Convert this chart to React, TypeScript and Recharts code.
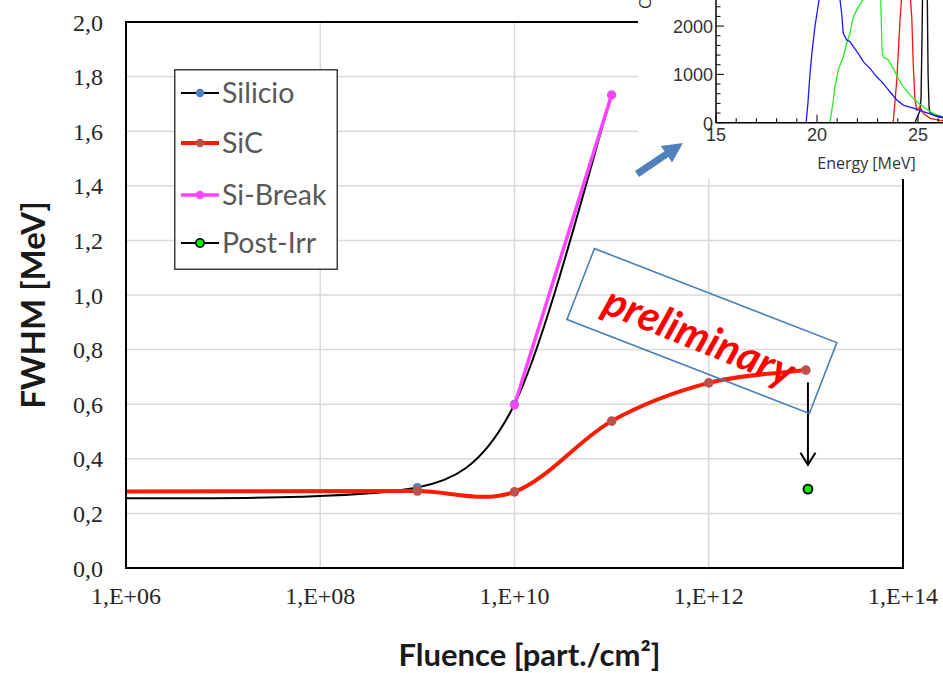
import React from 'react';
import {
  LineChart,
  Line,
  XAxis,
  YAxis,
  CartesianGrid,
  ReferenceArea,
  ReferenceDot,
  ReferenceLine,
  Legend,
} from 'recharts';

// ---- FWHM vs fluence ----
const FLUENCE_TICKS = [1e6, 1e8, 1e10, 1e12, 1e14];
const FWHM_TICKS = [0, 0.2, 0.4, 0.6, 0.8, 1.0, 1.2, 1.4, 1.6, 1.8, 2.0];

const SILICIO_FLUENCE = [1e5, 1e9, 1e10, 1e11];
const SILICIO_FWHM = [0.255, 0.295, 0.6, 1.733];

const SIC_FLUENCE = [1e5, 1e9, 1e10, 1e11, 1e12, 1e13];
const SIC_FWHM = [0.28, 0.282, 0.279, 0.538, 0.678, 0.725];

const BREAK_FLUENCE = [1e10, 1e11];
const BREAK_FWHM = [0.597, 1.733];

const POST_FLUENCE = [1.05e13];
const POST_FWHM = [0.289];

// annotation anchors (data units)
const ARROW_FWHM_FROM = 0.68;
const ARROW_FWHM_TO = 0.378;
const STAMP_FLUENCE = 8.5e11;
const STAMP_FWHM = 0.868;

// ---- energy spectra (inset) ----
const ENERGY_TICKS = [15, 16, 17, 18, 19, 20, 21, 22, 23, 24, 25, 26, 27, 28, 29];
const ENERGY_LABELS = [15, 20, 25];
const COUNT_TICKS = [0, 200, 400, 600, 800, 1000, 1200, 1400, 1600, 1800, 2000, 2200, 2400];
const COUNT_LABELS = [0, 1000, 2000];

const BLUE_E = [15, 19.4, 19.46, 19.55, 19.65, 19.75, 19.9, 20.05, 20.15, 20.4, 20.65, 20.9, 21.05, 21.14, 21.22, 21.3, 21.47, 21.63, 21.8, 22.04, 22.29, 22.62, 22.96, 23.28, 23.61, 23.95, 24.27, 24.77, 25.26, 25.76, 26.24, 26.8];
const BLUE_N = [0, 0, 0, 400, 1000, 1450, 2000, 2400, 2700, 3100, 3300, 3200, 2900, 2540, 2265, 1850, 1710, 1680, 1575, 1435, 1265, 1125, 950, 815, 640, 470, 365, 300, 230, 160, 110, 80];

const GREEN_E = [15, 20.64, 20.81, 20.89, 21.05, 21.3, 21.47, 21.63, 21.8, 21.97, 22.21, 22.38, 22.6, 22.8, 23.0, 23.15, 23.22, 23.28, 23.53, 23.78, 24.02, 24.27, 24.6, 24.94, 25.26, 25.59, 25.93, 26.24, 26.8];
const GREEN_N = [0, 0, 470, 745, 1090, 1365, 1645, 1850, 2195, 2335, 2505, 2600, 2750, 2850, 2800, 2650, 1500, 1365, 1300, 1125, 920, 745, 575, 435, 330, 230, 160, 125, 90];

const RED_E = [15, 23.75, 23.78, 23.95, 24.11, 24.19, 24.4, 24.6, 24.69, 24.77, 24.85, 24.94, 25.1, 25.26, 25.6, 26.1, 26.8];
const RED_N = [0, 0, 40, 885, 2125, 2600, 3500, 2700, 2195, 1160, 470, 265, 330, 195, 90, 50, 30];

const BLACK_E = [15, 24.85, 25.0, 25.1, 25.15, 25.2, 25.25, 25.35, 25.45, 25.5, 25.55, 25.6, 25.8, 26.0, 26.24, 26.8];
const BLACK_N = [0, 0, 150, 250, 500, 1800, 3500, 4000, 3000, 1000, 300, 200, 150, 120, 100, 70];

const pairs = (xs: number[], ys: number[]) => xs.map((x, i) => ({ x, y: ys[i] }));
const spectrum = (es: number[], ns: number[]) => es.map((e, i) => ({ e, n: ns[i] }));

const silicio = pairs(SILICIO_FLUENCE, SILICIO_FWHM);
const sic = pairs(SIC_FLUENCE, SIC_FWHM);
const siBreak = pairs(BREAK_FLUENCE, BREAK_FWHM);
const postIrr = pairs(POST_FLUENCE, POST_FWHM);

const SERIES = [
  { name: 'Silicio', line: '#000000', width: 2, dot: '#4f81bd', dotStroke: '#4f81bd' },
  { name: 'SiC', line: '#ff1a00', width: 4, dot: '#c0504d', dotStroke: '#c0504d' },
  { name: 'Si-Break', line: '#ff44ff', width: 3.5, dot: '#ff44ff', dotStroke: '#ff44ff' },
  { name: 'Post-Irr', line: '#000000', width: 2, dot: '#00ee00', dotStroke: '#000000' },
];

// Smoothed line through every point: cubic Bezier with Catmull-Rom tangents,
// each control handle limited to a third of its segment's width.
const smoothCurve: any = (context: any) => {
  let pts: number[][] = [];
  const handle = (a: number[], b: number[], span: number) => {
    let hx = (b[0] - a[0]) / 6;
    let hy = (b[1] - a[1]) / 6;
    const limit = Math.abs(span) / 3;
    if (Math.abs(hx) > limit && hx !== 0) {
      const k = limit / Math.abs(hx);
      hx *= k;
      hy *= k;
    }
    return [hx, hy];
  };
  return {
    areaStart() {},
    areaEnd() {},
    lineStart() {
      pts = [];
    },
    point(x: number, y: number) {
      pts.push([+x, +y]);
    },
    lineEnd() {
      const n = pts.length;
      if (!n) return;
      context.moveTo(pts[0][0], pts[0][1]);
      for (let i = 0; i < n - 1; i++) {
        const p0 = pts[i - 1] || pts[i];
        const p1 = pts[i];
        const p2 = pts[i + 1];
        const p3 = pts[i + 2] || p2;
        const span = p2[0] - p1[0];
        const h1 = handle(p0, p2, span);
        const h2 = handle(p1, p3, span);
        context.bezierCurveTo(p1[0] + h1[0], p1[1] + h1[1], p2[0] - h2[0], p2[1] - h2[1], p2[0], p2[1]);
      }
    },
  };
};

const fmtFluence = (v: number) => '1,E+' + String(Math.round(Math.log10(v))).padStart(2, '0');
const fmtFwhm = (v: number) => v.toFixed(1).replace('.', ',');

const TITLE_FONT = 'Lato, "Open Sans", sans-serif';

const LegendBox = () => (
  <svg width={164} height={201} style={{ display: 'block' }}>
    <rect x={0.75} y={0.75} width={162.5} height={199.5} fill="#ffffff" stroke="#333333" strokeWidth={1.4} />
    {SERIES.map((s, i) => {
      const cy = [24, 74, 126, 174][i];
      return (
        <g key={s.name}>
          <line x1={7} x2={45} y1={cy} y2={cy} stroke={s.line} strokeWidth={s.width} />
          <circle cx={26} cy={cy} r={4.2} fill={s.dot} stroke={s.dotStroke} strokeWidth={s.name === 'Post-Irr' ? 1.6 : 0} />
          <text x={48} y={cy + 10} fontFamily={TITLE_FONT} fontSize={28.5} fill="#595959">
            {s.name}
          </text>
        </g>
      );
    })}
  </svg>
);

const DownArrow = (props: any) => {
  const { x1, y1, x2, y2 } = props;
  return (
    <g>
      <line x1={x1} y1={y1} x2={x2} y2={y2} stroke="#000" strokeWidth={2} />
      <polyline
        points={`${x2 - 7.5},${y2 - 12} ${x2},${y2} ${x2 + 7.5},${y2 - 12}`}
        fill="none"
        stroke="#000"
        strokeWidth={2}
      />
    </g>
  );
};

const PreliminaryStamp = (props: any) => {
  const { cx, cy } = props;
  return (
    <g>
      <g transform={`rotate(21.2 ${cx} ${cy})`}>
        <rect x={cx - 130} y={cy - 38} width={260} height={76} fill="none" stroke="#4a7ebb" strokeWidth={1.6} />
      </g>
      <text
        x={cx - 2}
        y={cy + 4}
        transform={`rotate(22 ${cx - 2} ${cy + 4})`}
        textAnchor="middle"
        dominantBaseline="central"
        fontFamily={TITLE_FONT}
        fontWeight="bold"
        fontStyle="italic"
        fontSize={42}
        fill="#ff0000"
      >
        preliminary
      </text>
    </g>
  );
};

const InsetXTick = (props: any) => {
  const { x, y, payload } = props;
  const major = ENERGY_LABELS.includes(payload.value);
  return (
    <g>
      <line x1={x} x2={x} y1={y} y2={y - (major ? 8 : 4.5)} stroke="#000" strokeWidth={1} />
      {major && (
        <text x={x} y={y + 18} textAnchor="middle" fontFamily="Liberation Sans, Arial, sans-serif" fontSize={18} fill="#333">
          {payload.value}
        </text>
      )}
    </g>
  );
};

const InsetYTick = (props: any) => {
  const { x, y, payload } = props;
  const major = COUNT_LABELS.includes(payload.value);
  return (
    <g>
      <line x1={x} x2={x + (major ? 8 : 4.5)} y1={y} y2={y} stroke="#000" strokeWidth={1} />
      {major && (
        <text x={x - 3} y={y + 7} textAnchor="end" fontFamily="Liberation Sans, Arial, sans-serif" fontSize={18} fill="#333">
          {payload.value}
        </text>
      )}
    </g>
  );
};

// Blue pointer from the plot towards the spectrum inset
const POINTER_FROM = [637, 174];
const POINTER_TO = [683, 143];
const pointerPolygon = () => {
  const [sx, sy] = POINTER_FROM;
  const [tx, ty] = POINTER_TO;
  const len = Math.hypot(tx - sx, ty - sy);
  const dx = (tx - sx) / len;
  const dy = (ty - sy) / len;
  const nx = -dy;
  const ny = dx;
  const bx = tx - 20 * dx;
  const by = ty - 20 * dy;
  const p = (x: number, y: number) => `${x.toFixed(1)},${y.toFixed(1)}`;
  return [
    p(sx + 3.5 * nx, sy + 3.5 * ny),
    p(bx + 3.5 * nx, by + 3.5 * ny),
    p(bx + 10 * nx, by + 10 * ny),
    p(tx, ty),
    p(bx - 10 * nx, by - 10 * ny),
    p(bx - 3.5 * nx, by - 3.5 * ny),
    p(sx - 3.5 * nx, sy - 3.5 * ny),
  ].join(' ');
};

export default function App() {
  return (
    <div
      style={{
        position: 'absolute',
        left: 0,
        top: 0,
        width: 943,
        height: 673,
        overflow: 'hidden',
        background: '#ffffff',
      }}
    >
      <LineChart width={943} height={673} margin={{ top: 22, right: 40, bottom: 0, left: 0 }}>
        <CartesianGrid stroke="#d9d9d9" strokeWidth={1.5} />
        <XAxis
          type="number"
          dataKey="x"
          scale="log"
          domain={[1e6, 1e14]}
          ticks={FLUENCE_TICKS}
          interval={0}
          allowDataOverflow
          tickFormatter={fmtFluence}
          tickLine={false}
          tickSize={0}
          tickMargin={19}
          height={105}
          axisLine={{ stroke: '#000', strokeWidth: 2 }}
          tick={{ fontFamily: 'Liberation Serif, serif', fontSize: 24, fill: '#262626' }}
          label={{
            content: (p: any) => {
              const vb = p.viewBox;
              return (
                <text
                  x={vb.x + vb.width / 2 + 15}
                  y={vb.y + vb.height - 7}
                  textAnchor="middle"
                  fontFamily={TITLE_FONT}
                  fontWeight="bold"
                  fontSize={31}
                  fill="#1a1a1a"
                >
                  Fluence [part./cm²]
                </text>
              );
            },
          }}
        />
        <YAxis
          type="number"
          domain={[0, 2]}
          ticks={FWHM_TICKS}
          interval={0}
          allowDataOverflow
          tickFormatter={fmtFwhm}
          tickLine={false}
          tickSize={0}
          tickMargin={23}
          width={126}
          axisLine={{ stroke: '#000', strokeWidth: 2 }}
          tick={{ fontFamily: 'Liberation Serif, serif', fontSize: 24, fill: '#262626' }}
          label={{
            content: (p: any) => {
              const vb = p.viewBox;
              const cx = vb.x + 45;
              const cy = vb.y + vb.height / 2 + 10;
              return (
                <text
                  x={cx}
                  y={cy}
                  transform={`rotate(-90 ${cx} ${cy})`}
                  textAnchor="middle"
                  fontFamily={TITLE_FONT}
                  fontWeight="bold"
                  fontSize={33}
                  fill="#1a1a1a"
                >
                  FWHM [MeV]
                </text>
              );
            },
          }}
        />
        <ReferenceArea
          x1={1e6}
          x2={1e14}
          y1={0}
          y2={2}
          fill="none"
          stroke="#000"
          strokeWidth={2}
          ifOverflow="visible"
        />
        <Line
          name="Silicio"
          data={silicio}
          dataKey="y"
          type={smoothCurve}
          stroke="#000000"
          strokeWidth={2}
          dot={{ r: 4.5, fill: '#4f81bd', stroke: '#4f81bd', strokeWidth: 0 }}
          isAnimationActive={false}
        />
        <Line
          name="SiC"
          data={sic}
          dataKey="y"
          type={smoothCurve}
          stroke="#ff1a00"
          strokeWidth={4}
          dot={{ r: 4.8, fill: '#c0504d', stroke: '#c0504d', strokeWidth: 0 }}
          isAnimationActive={false}
        />
        <Line
          name="Si-Break"
          data={siBreak}
          dataKey="y"
          type="linear"
          stroke="#ff44ff"
          strokeWidth={3.5}
          dot={{ r: 4.5, fill: '#ff44ff', stroke: '#ff44ff', strokeWidth: 0 }}
          isAnimationActive={false}
        />
        <Line
          name="Post-Irr"
          data={postIrr}
          dataKey="y"
          type="linear"
          stroke="#000000"
          strokeWidth={2}
          dot={{ r: 4.5, fill: '#00ee00', stroke: '#000', strokeWidth: 1.8 }}
          isAnimationActive={false}
        />
        <ReferenceLine
          segment={[
            { x: POST_FLUENCE[0], y: ARROW_FWHM_FROM },
            { x: POST_FLUENCE[0], y: ARROW_FWHM_TO },
          ]}
          shape={DownArrow}
          ifOverflow="visible"
        />
        <ReferenceDot x={STAMP_FLUENCE} y={STAMP_FWHM} r={0} shape={PreliminaryStamp} ifOverflow="visible" />
        <Legend
          layout="vertical"
          align="center"
          verticalAlign="middle"
          wrapperStyle={{ left: 174, top: 69, width: 164, height: 201 }}
          content={() => <LegendBox />}
        />
      </LineChart>

      {/* energy spectra inset */}
      <div
        style={{
          position: 'absolute',
          left: 638,
          top: 0,
          width: 305,
          height: 179,
          overflow: 'hidden',
          background: '#ffffff',
        }}
      >
        <LineChart width={381} height={179} margin={{ top: 0, right: 0, bottom: 0, left: 0 }}>
          <XAxis
            type="number"
            dataKey="e"
            domain={[15, 30]}
            ticks={ENERGY_TICKS}
            interval={0}
            allowDataOverflow
            tickLine={false}
            tickSize={0}
            tickMargin={0}
            height={56.3}
            axisLine={{ stroke: '#000', strokeWidth: 1.5 }}
            tick={<InsetXTick />}
            label={{
              content: (p: any) => {
                const vb = p.viewBox;
                return (
                  <text
                    x={vb.x + 150.5}
                    y={vb.y + 46}
                    textAnchor="middle"
                    fontFamily='"Open Sans", sans-serif'
                    fontSize={16}
                    fill="#333"
                  >
                    Energy [MeV]
                  </text>
                );
              },
            }}
          />
          <YAxis
            type="number"
            domain={[0, 2540]}
            ticks={COUNT_TICKS}
            interval={0}
            allowDataOverflow
            tickLine={false}
            tickSize={0}
            tickMargin={0}
            width={78}
            axisLine={{ stroke: '#000', strokeWidth: 1.5 }}
            tick={<InsetYTick />}
            label={{
              content: () => (
                <text
                  x={13}
                  y={9}
                  transform="rotate(-90 13 9)"
                  textAnchor="start"
                  fontFamily='"Open Sans", sans-serif'
                  fontSize={16}
                  fill="#333"
                >
                  Counts
                </text>
              ),
            }}
          />
          <Line data={spectrum(BLACK_E, BLACK_N)} dataKey="n" type="linear" stroke="#111111" strokeWidth={1.4} dot={false} isAnimationActive={false} />
          <Line data={spectrum(RED_E, RED_N)} dataKey="n" type="linear" stroke="#ff1010" strokeWidth={1.3} dot={false} isAnimationActive={false} />
          <Line data={spectrum(GREEN_E, GREEN_N)} dataKey="n" type="linear" stroke="#22ee22" strokeWidth={1.3} dot={false} isAnimationActive={false} />
          <Line data={spectrum(BLUE_E, BLUE_N)} dataKey="n" type="linear" stroke="#1a1aff" strokeWidth={1.3} dot={false} isAnimationActive={false} />
        </LineChart>
      </div>

      <svg
        width={943}
        height={673}
        style={{ position: 'absolute', left: 0, top: 0, pointerEvents: 'none' }}
      >
        <polygon points={pointerPolygon()} fill="#4f81bd" />
      </svg>
    </div>
  );
}
